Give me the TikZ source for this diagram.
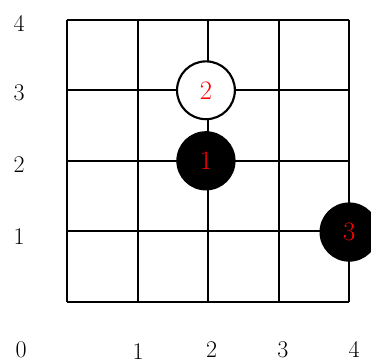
\documentclass[tikz,border=0pt]{standalone}
\begin{document}
\begin{tikzpicture}[
x=52.95pt,y=52.95pt,
board/.style={line width=1.5pt},
axis/.style={inner sep=0pt,font=\fontsize{18}{18}\selectfont},
black stone/.style={circle,fill=black,minimum size=0.84*52.95pt,inner sep=0pt,text=red,font=\fontsize{20}{20}\selectfont},
white stone/.style={circle,draw,line width=1.6pt,fill=white,minimum size=0.82*52.95pt,inner sep=0pt,text=red,font=\fontsize{20}{20}\selectfont}
]
\useasboundingbox (-0.95,-0.85) rectangle (4.31,4.28);
\draw[board] (0,0) grid[step=1] (4,4);
% row numbers on the left
\node[axis] (r4) at (-0.68,3.95){4};
\node[axis] (r3) at (-0.68,2.96){3};
\node[axis] (r2) at (-0.68,1.94){2};
\node[axis] (r1) at (-0.68,0.93){1};
\node[axis] (r0) at (-0.65,-0.68){0};
% column numbers below
\node[axis] (c1) at (1.01,-0.70){1};
\node[axis] (c2) at (2.05,-0.68){2};
\node[axis] (c3) at (3.06,-0.68){3};
\node[axis] (c4) at (4.07,-0.68){4};
% stones
\node[white stone] (s2) at (1.97,3.0){2};
\node[black stone] (s1) at (1.97,2.0){1};
\node[black stone] (s3) at (4.0,0.99){3};
\end{tikzpicture}
\end{document}
